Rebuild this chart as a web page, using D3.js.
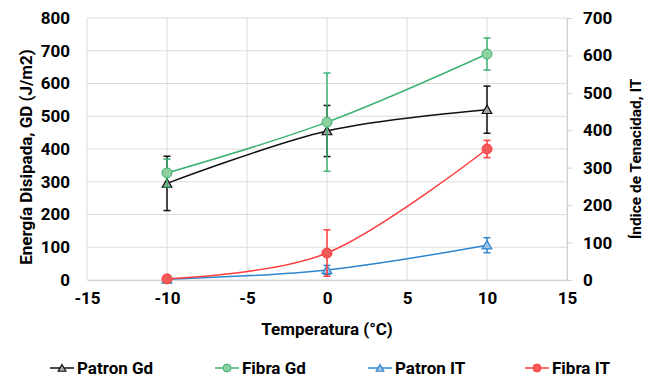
<!DOCTYPE html>
<html>
<head>
<meta charset="utf-8">
<script src="https://cdn.jsdelivr.net/npm/d3@7"></script>
<style>
  body { margin: 0; background: #fff; }
  svg text { font-family: "Roboto", "Liberation Sans", sans-serif; font-weight: bold; fill: #000; }
</style>
</head>
<body>
<svg id="chart" width="655" height="380"></svg>
<script>
// temperatures (°C)
const temps = [-10, 0, 10];

// left axis: energy dissipated GD (J/m2)
const patronGd = [295, 455, 520];
const patronGdErr = [83, 78, 72];
const fibraGd = [327, 482, 690];
const fibraGdErr = [42, 150, 49];

// right axis: toughness index IT
const patronIT = [2, 27, 93];
const patronITErr = [2, 12, 20];
const fibraIT = [3, 72, 350];
const fibraITErr = [2, 62, 23];

const xTicks = [-15, -10, -5, 0, 5, 10, 15];
const yLeftTicks = [0, 100, 200, 300, 400, 500, 600, 700, 800];
const yRightTicks = [0, 100, 200, 300, 400, 500, 600, 700];

const svg = d3.select("#chart");
const plotL = 87, plotR = 567, plotT = 18, plotB = 280;

const x = d3.scaleLinear().domain([-15, 15]).range([plotL, plotR]);
const yL = d3.scaleLinear().domain([0, 800]).range([plotB, plotT]);
const yR = d3.scaleLinear().domain([0, 700]).range([plotB, plotT]);

// grid
svg.append("g").selectAll("line").data(yLeftTicks).join("line")
  .attr("x1", plotL).attr("x2", plotR)
  .attr("y1", d => yL(d)).attr("y2", d => yL(d))
  .attr("stroke", "#dcdcdc").attr("stroke-width", 1);
svg.append("g").selectAll("line").data(xTicks).join("line")
  .attr("x1", d => x(d)).attr("x2", d => x(d))
  .attr("y1", plotT).attr("y2", plotB)
  .attr("stroke", "#dcdcdc").attr("stroke-width", 1);

// axes (plain hyphen for negatives, like the original)
const fmt = d => String(d);
const xAxis = svg.append("g")
  .attr("transform", `translate(0,${plotB})`)
  .call(d3.axisBottom(x).tickValues(xTicks).tickFormat(fmt).tickSize(0).tickPadding(12));
const yAxisL = svg.append("g")
  .attr("transform", `translate(${plotL},0)`)
  .call(d3.axisLeft(yL).tickValues(yLeftTicks).tickFormat(fmt).tickSize(0).tickPadding(17));
const yAxisR = svg.append("g")
  .attr("transform", `translate(${plotR},0)`)
  .call(d3.axisRight(yR).tickValues(yRightTicks).tickFormat(fmt).tickSize(5).tickPadding(11));
[xAxis, yAxisL, yAxisR].forEach(g => {
  g.select(".domain").attr("stroke", "#d0d0d0");
  g.selectAll(".tick line").attr("stroke", "#d0d0d0");
  g.selectAll("text").attr("font-size", 17);
});
yAxisL.select(".domain").remove();

// titles
svg.append("text").attr("x", (plotL + plotR) / 2).attr("y", 335)
  .attr("text-anchor", "middle").attr("font-size", 17).text("Temperatura (°C)");
svg.append("text").attr("transform", "translate(32,157) rotate(-90)")
  .attr("text-anchor", "middle").attr("font-size", 17).text("Energía Disipada, GD (J/m2)");
svg.append("text").attr("transform", "translate(641,159) rotate(-90)")
  .attr("text-anchor", "middle").attr("font-size", 15.5).text("Índice de Tenacidad, IT");

const series = [
  { name: "Patron Gd", vals: patronGd, err: patronGdErr, y: yL, color: "#111", fill: "#a6a6a6", shape: "tri", lx: 50 },
  { name: "Fibra Gd", vals: fibraGd, err: fibraGdErr, y: yL, color: "#3cb371", fill: "#8fd19e", shape: "circle", lx: 215 },
  { name: "Patron IT", vals: patronIT, err: patronITErr, y: yR, color: "#2e86d0", fill: "#9dc3e6", shape: "tri", lx: 368 },
  { name: "Fibra IT", vals: fibraIT, err: fibraITErr, y: yR, color: "#ff3b3b", fill: "#f25a5a", shape: "circle", lx: 525 }
];

function marker(g, s, cx, cy, small) {
  if (s.shape === "circle") {
    g.append("circle").attr("cx", cx).attr("cy", cy).attr("r", small ? 4 : 5)
      .attr("fill", s.fill).attr("stroke", s.color).attr("stroke-width", 1);
  } else {
    g.append("path").attr("d", d3.symbol().type(d3.symbolTriangle).size(small ? 26 : 40)())
      .attr("transform", `translate(${cx},${cy + 1})`)
      .attr("fill", s.fill).attr("stroke", s.color).attr("stroke-width", 1.2);
  }
}

series.forEach(s => {
  const g = svg.append("g");
  const pts = temps.map((t, i) => ({ t, v: s.vals[i], e: s.err[i] }));
  // error bars
  pts.forEach(p => {
    const x0 = x(p.t), y1 = s.y(p.v + p.e), y2 = s.y(Math.max(0, p.v - p.e));
    g.append("line").attr("x1", x0).attr("x2", x0).attr("y1", y1).attr("y2", y2)
      .attr("stroke", s.color).attr("stroke-width", 1.5);
    [y1, y2].forEach(yy => g.append("line").attr("x1", x0 - 3.5).attr("x2", x0 + 3.5)
      .attr("y1", yy).attr("y2", yy).attr("stroke", s.color).attr("stroke-width", 1.5));
  });
  const line = d3.line().x(p => x(p.t)).y(p => s.y(p.v)).curve(d3.curveCatmullRom.alpha(0));
  g.append("path").datum(pts).attr("d", line)
    .attr("fill", "none").attr("stroke", s.color).attr("stroke-width", 1.5);
  pts.forEach(p => marker(g, s, x(p.t), s.y(p.v), false));

  // legend
  const lg = svg.append("g").attr("transform", `translate(${s.lx},368)`);
  lg.append("line").attr("x1", 0).attr("x2", 24).attr("y1", 0).attr("y2", 0)
    .attr("stroke", s.color).attr("stroke-width", 1.5);
  marker(lg, s, 12, 0, true);
  lg.append("text").attr("x", 27).attr("y", 6).attr("font-size", 17).text(s.name);
});
</script>
</body>
</html>
